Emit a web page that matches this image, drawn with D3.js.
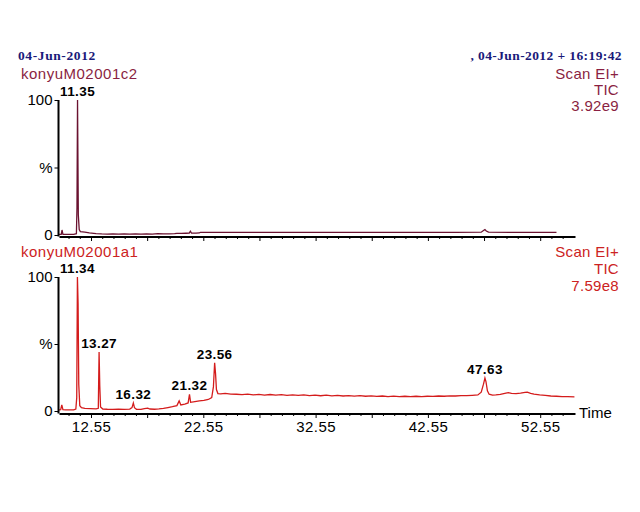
<!DOCTYPE html>
<html>
<head>
<meta charset="utf-8">
<script src="https://cdn.jsdelivr.net/npm/d3@7"></script>
<style>
  html, body { margin: 0; padding: 0; background: #fff; }
  svg { display: block; }
  text { font-family: "Liberation Sans", Arial, sans-serif; }
</style>
</head>
<body>
<svg id="chart" width="640" height="512"></svg>
<script>
// ---------- DATA ----------
const headerLeft = "04-Jun-2012";
const headerRight = ", 04-Jun-2012 + 16:19:42";
const sampleNames = ["konyuM02001c2", "konyuM02001a1"];
const scanInfo = [["Scan EI+", "TIC", "3.92e9"], ["Scan EI+", "TIC", "7.59e8"]];

const xLabelTicks = [12.55, 22.55, 32.55, 42.55, 52.55];
const xMajorTicks = [12.55, 17.55, 22.55, 27.55, 32.55, 37.55, 42.55, 47.55, 52.55];
const xMinorTicks = [10.55, 11.55, 13.55, 14.55, 15.55, 16.55, 18.55, 19.55, 20.55, 21.55, 23.55, 24.55,
  25.55, 26.55, 28.55, 29.55, 30.55, 31.55, 33.55, 34.55, 35.55, 36.55, 38.55, 39.55, 40.55, 41.55,
  43.55, 44.55, 45.55, 46.55, 48.55, 49.55, 50.55, 51.55, 53.55, 54.55];
const yTicks = [0, 50, 100];
const yTickLabels = ["0", "%", "100"];

// Trace c2 (top)
const c2Time = [9.70, 9.90, 9.97, 10.05, 10.5, 11.0, 11.25, 11.30, 11.35, 11.42, 11.50, 11.60, 12.0, 12.4,
  13.0, 13.5, 14.0, 14.5, 15.0, 15.5, 16.0, 16.5, 17.0, 17.5, 18.0, 18.5, 19.0, 19.5, 20.0, 20.2, 20.6,
  21.0, 21.3, 21.4, 21.5, 21.9, 22.2, 22.3, 25.0, 30.0, 35.0, 40.0, 45.0, 47.3, 47.5, 47.63, 47.75, 47.95,
  50.0, 54.0];
const c2Value = [0.5, 0.5, 3.7, 0.5, 0.4, 0.5, 1.0, 20, 100, 15, 4.0, 2.5, 2.2, 1.5,
  1.0, 0.8, 0.7, 0.9, 0.6, 0.8, 0.7, 0.9, 0.6, 0.8, 0.7, 1.0, 0.8, 0.9, 1.0, 1.2, 1.2,
  1.3, 1.4, 2.8, 1.4, 1.4, 1.5, 2.0, 2.0, 2.0, 2.0, 2.0, 2.0, 2.1, 3.3, 4.0, 3.0, 2.1,
  2.0, 2.0];

// Trace a1 (bottom)
const a1Time = [9.70, 9.85, 9.95, 10.05, 10.3, 10.7, 11.0, 11.2, 11.28, 11.34, 11.40, 11.46, 11.55, 11.7,
  12.0, 12.5, 13.0, 13.2, 13.27, 13.33, 13.40, 13.6, 14.0, 14.5, 15.0, 15.5, 16.0, 16.2, 16.32, 16.42,
  16.6, 17.0, 17.3, 17.6, 17.8, 18.2, 18.6, 19.0, 19.4, 19.8, 20.2, 20.4, 20.55, 20.9, 21.2, 21.32, 21.42,
  21.8, 22.2, 22.6, 23.0, 23.3, 23.45, 23.56, 23.64, 23.72, 23.85, 24.1, 24.5, 25.0, 25.5, 26.0, 26.5,
  27.0, 27.5, 28.0, 28.5, 29.0, 29.5, 30.0, 30.5, 31.0, 31.5, 32.0, 32.5, 33.0, 33.5, 34.0, 34.5, 35.0,
  35.5, 36.0, 36.5, 37.0, 37.5, 38.0, 38.5, 39.0, 39.5, 40.0, 40.5, 41.0, 41.5, 42.0, 42.5, 43.0, 43.5,
  44.0, 44.5, 45.0, 45.5, 46.0, 46.5, 47.0, 47.3, 47.5, 47.63, 47.72, 47.85, 48.0, 48.3, 48.6, 49.0,
  49.4, 49.7, 50.0, 50.4, 50.8, 51.2, 51.4, 51.7, 52.0, 52.5, 53.0, 53.5, 54.0, 54.5, 55.0, 55.6];
const a1Value = [0.8, 1.0, 4.5, 1.0, 0.8, 0.8, 0.9, 1.5, 10, 100, 80, 20, 4.0, 2.5,
  2.0, 1.8, 1.6, 2.0, 44, 19, 3.0, 1.5, 1.3, 1.2, 1.3, 1.2, 1.4, 2.5, 6.0, 2.5,
  1.3, 1.2, 1.8, 2.2, 1.5, 1.3, 1.6, 2.0, 2.6, 3.2, 4.0, 7.5, 4.5, 5.2, 6.0, 12.5, 6.5,
  7.0, 7.6, 8.0, 8.6, 10, 18, 36, 28, 16, 13, 12.8, 13.2, 12.6, 12.5, 12.2, 12.6,
  12.0, 12.4, 11.9, 12.3, 11.8, 12.2, 11.7, 12.1, 11.6, 12.0, 11.5, 11.9, 11.4, 11.8, 11.3, 11.7, 11.2,
  11.5, 11.1, 11.4, 11.0, 11.3, 10.9, 11.2, 10.8, 11.1, 10.8, 11.0, 10.7, 11.0, 10.8, 11.0, 10.9, 11.2,
  11.0, 11.3, 11.2, 11.5, 11.4, 11.7, 12.0, 14, 20, 24.6, 22, 15, 12.5, 11.8, 12.0, 12.4,
  13.2, 13.7, 13.2, 13.0, 13.4, 13.9, 14.0, 13.2, 12.6, 12.0, 11.6, 11.2, 11.0, 10.8, 10.7, 10.6];

const c2PeakTimes = [11.35];
const c2PeakHeights = [100];
const a1PeakTimes = [11.34, 13.27, 16.32, 21.32, 23.56, 47.63];
const a1PeakHeights = [100, 44, 6, 12.5, 36, 24.6];

// ---------- DRAW ----------
const svg = d3.select("#chart");
svg.append("rect").attr("width", 640).attr("height", 512).attr("fill", "#fff");

const x = d3.scaleLinear().domain([9.70, 55.65]).range([59, 575]);

const panels = [
  { name: sampleNames[0], info: scanInfo[0], time: c2Time, value: c2Value,
    pkT: c2PeakTimes, pkH: c2PeakHeights, y0: 235, y100: 100, axisY: 236.5,
    color: "#6a1230", textColor: "#8a1f42", nameY: 79, infoY: [79, 95, 111], labels: false },
  { name: sampleNames[1], info: scanInfo[1], time: a1Time, value: a1Value,
    pkT: a1PeakTimes, pkH: a1PeakHeights, y0: 411, y100: 277, axisY: 413.5,
    color: "#d41c1c", textColor: "#cc2222", nameY: 257, infoY: [257, 274, 291], labels: true }
];

// headers
svg.append("text").attr("x", 18).attr("y", 60)
  .style("font-family", "'Liberation Serif', 'Times New Roman', serif")
  .style("font-weight", "bold").style("font-size", "13.5px").style("letter-spacing", "0.6px")
  .attr("fill", "#1a1a7a").text(headerLeft);
svg.append("text").attr("x", 622).attr("y", 60).attr("text-anchor", "end")
  .style("font-family", "'Liberation Serif', 'Times New Roman', serif")
  .style("font-weight", "bold").style("font-size", "13.5px").style("letter-spacing", "0.4px")
  .attr("fill", "#1a1a7a").text(headerRight);

panels.forEach(p => {
  const y = d3.scaleLinear().domain([0, 100]).range([p.y0, p.y100]);
  const g = svg.append("g");

  // sample name & scan info
  g.append("text").attr("x", 21).attr("y", p.nameY).attr("fill", p.textColor)
    .style("font-size", "15px").style("letter-spacing", "0.5px").text(p.name);
  p.info.forEach((t, i) => {
    g.append("text").attr("x", 619).attr("y", p.infoY[i]).attr("text-anchor", "end")
      .attr("fill", p.textColor).style("font-size", "15px").style("letter-spacing", "0.3px").text(t);
  });

  // trace
  const pts = p.time.map((t, i) => [t, p.value[i]]);
  g.append("path").datum(pts)
    .attr("d", d3.line().x(d => x(d[0])).y(d => y(d[1])))
    .attr("fill", "none").attr("stroke", p.color).attr("stroke-width", 1.3);

  // x axis: minor ticks
  g.append("g").attr("transform", `translate(0,${p.axisY})`)
    .call(d3.axisBottom(x).tickValues(xMinorTicks).tickSize(2.5).tickSizeOuter(0).tickFormat(""))
    .call(a => a.select(".domain").remove())
    .call(a => a.selectAll("line").attr("stroke", "#000"));
  // x axis: major ticks + domain
  const xa = g.append("g").attr("transform", `translate(0,${p.axisY})`)
    .call(d3.axisBottom(x).tickValues(xMajorTicks).tickSize(4.5).tickSizeOuter(0).tickPadding(3)
      .tickFormat(d => (p.labels && xLabelTicks.includes(d)) ? d3.format(".2f")(d) : ""));
  xa.select(".domain").attr("stroke", "#000").attr("stroke-width", 2.2);
  xa.selectAll("line").attr("stroke", "#000");
  xa.selectAll("text").style("font-size", "15px").style("letter-spacing", "0.4px")
    .style("font-family", "'Liberation Sans', Arial, sans-serif").attr("fill", "#000");

  // y axis
  const ya = g.append("g").attr("transform", "translate(58.5,0)")
    .call(d3.axisLeft(y).tickValues(yTicks).tickSize(4).tickSizeOuter(0).tickPadding(2)
      .tickFormat(d => yTickLabels[yTicks.indexOf(d)]));
  ya.select(".domain").remove();
  ya.selectAll("line").attr("stroke", "#000");
  ya.selectAll("text").style("font-size", "15px").style("font-family", "'Liberation Sans', Arial, sans-serif")
    .attr("fill", "#000");
  g.append("line").attr("x1", 58.5).attr("x2", 58.5).attr("y1", y(100)).attr("y2", p.axisY)
    .attr("stroke", "#000").attr("stroke-width", 2);

  // peak labels
  p.pkT.forEach((t, i) => {
    g.append("text").attr("x", x(t)).attr("y", y(p.pkH[i]) - 4).attr("text-anchor", "middle")
      .style("font-size", "13.5px").style("font-weight", "bold").style("letter-spacing", "0.4px")
      .attr("fill", "#000").text(d3.format(".2f")(t));
  });

  if (p.labels) {
    g.append("text").attr("x", 579).attr("y", 418).style("font-size", "15px").attr("fill", "#000").text("Time");
  }
});
</script>
</body>
</html>
